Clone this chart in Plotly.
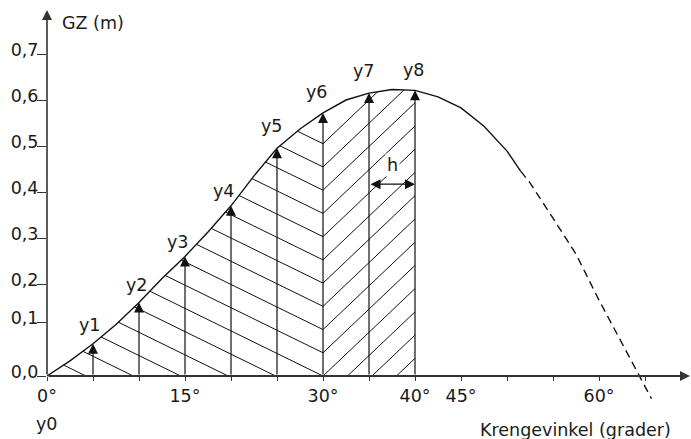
import numpy as np
import plotly.graph_objects as go

# ---- GZ curve (righting lever vs heel angle) ----
heel_deg = [0, 2.5, 5, 7.5, 10, 12.5, 15, 17.5, 20, 22.5, 25, 27.5, 30, 32.5, 35,
            37.5, 40, 42.5, 45, 47.5, 50, 51.5, 52.5, 55, 57.5, 60, 62.5, 65, 65.7]
gz_m = [0.0, 0.033, 0.07, 0.112, 0.16, 0.212, 0.26, 0.313, 0.37, 0.435, 0.495, 0.537,
        0.572, 0.600, 0.615, 0.623, 0.621, 0.607, 0.583, 0.543, 0.489, 0.445, 0.42,
        0.343, 0.265, 0.165, 0.07, -0.025, -0.049]
solid_until_deg = 51.5

# ---- Ordinates used for the area integration ----
ordinate_labels = ["y1", "y2", "y3", "y4", "y5", "y6", "y7", "y8"]
ordinate_deg = [5, 10, 15, 20, 25, 30, 35, 40]
interval_start_deg, interval_end_deg = 35, 40     # the "h" step
fold_deg = 30                                      # hatch direction changes here

# ---- Axis ticks ----
gz_tick_vals = [0.0, 0.117, 0.2, 0.3, 0.4, 0.5, 0.6, 0.7]
gz_tick_text = ["0,0", "0,1", "0,2", "0,3", "0,4", "0,5", "0,6", "0,7"]
heel_tick_vals = list(range(0, 70, 5))
heel_tick_text = ["0°", "", "", "15°", "", "", "30°", "", "40°", "45°", "", "", "60°", ""]

# ---- Layout geometry ----
W, H = 691, 439
M_L, M_R, M_T, M_B = 47, 1, 10, 34
x_range = [0, 69.89]
y_range = [-0.063, 0.7957]
x_axis_pos = (0 - y_range[0]) / (y_range[1] - y_range[0])

INK = "#1a1a1a"
AXIS = "#333333"
FONT = "DejaVu Sans"
FS = 17.5

heel = np.array(heel_deg, dtype=float)
gz = np.array(gz_m, dtype=float)


def curve(x):
    return np.interp(x, heel, gz)


ordinate_gz = [float(curve(a)) for a in ordinate_deg]

# ---- Hatching under the curve ----
HATCH_STEP = 0.0505   # spacing of chevron vertices on the fold ordinate (m)
LEFT_SLOPE = 0.0098   # m per degree, lines falling to the right
RIGHT_SLOPE = 0.019   # m per degree, lines rising to the right


def first_hit(line, x_from, x_to):
    xs = np.linspace(x_from, x_to, 6000)
    d = line(xs) - curve(xs)
    hit = np.nonzero(d >= 0)[0]
    return xs[hit[0]] if hit.size else x_to


hx, hy = [], []
for k in range(-6, 11):
    v = HATCH_STEP * k

    def left_line(x, v=v):
        return v + LEFT_SLOPE * (fold_deg - x)

    x_right = fold_deg if v >= 0 else fold_deg + v / LEFT_SLOPE
    if x_right > 0.3:
        x_left = first_hit(left_line, x_right, 0.0)
        hx += [x_left, x_right, None]
        hy += [float(left_line(x_left)), float(left_line(x_right)), None]

    def right_line(x, v=v):
        return v + RIGHT_SLOPE * (x - fold_deg)

    x_start = fold_deg if v >= 0 else fold_deg - v / RIGHT_SLOPE
    if x_start < interval_end_deg:
        x_stop = first_hit(right_line, x_start, interval_end_deg)
        hx += [x_start, x_stop, None]
        hy += [float(right_line(x_start)), float(right_line(x_stop)), None]

fig = go.Figure()
fig.add_trace(go.Scatter(x=hx, y=hy, mode="lines", line=dict(color="#111111", width=1),
                         hoverinfo="skip", showlegend=False))

solid = heel <= solid_until_deg
dashed = heel >= solid_until_deg
fig.add_trace(go.Scatter(x=heel[solid], y=gz[solid], mode="lines",
                         line=dict(color="#111111", width=1.4), showlegend=False))
fig.add_trace(go.Scatter(x=heel[dashed], y=gz[dashed], mode="lines",
                         line=dict(color="#111111", width=1.4, dash="8px,5px"),
                         showlegend=False))

ann = []


def arrow(x, y, ax, ay, width, color, both=False):
    d = dict(x=x, y=y, ax=ax, ay=ay, xref="x", yref="y", axref="x", ayref="y",
             text="", showarrow=True, arrowhead=2, arrowsize=2.0 / width,
             arrowwidth=width, arrowcolor=color)
    if both:
        d.update(arrowside="end+start", startarrowhead=2, startarrowsize=2.0 / width)
    return d


# axes with arrow heads
ann.append(arrow(x_range[1], 0, 0, 0, 1.8, AXIS))
ann.append(arrow(0, y_range[1], 0, 0, 1.6, AXIS))

# ordinates
label_nudge = [(-3, 19), (-2, 17), (-7, 14), (-7, 15), (-5, 22), (-6, 21), (-5, 22), (-1, 20)]
for a, g, lab, (dx, dy) in zip(ordinate_deg, ordinate_gz, ordinate_labels, label_nudge):
    ann.append(arrow(a, g, a, 0, 1.2, "#111111"))
    ann.append(dict(x=a, y=g, xref="x", yref="y", text=lab, showarrow=False,
                    xshift=dx, yshift=dy, font=dict(family=FONT, size=FS, color=INK)))

# h interval
h_level = 0.417
ann.append(arrow(interval_end_deg, h_level, interval_start_deg, h_level, 1.2, "#111111", both=True))
ann.append(dict(x=(interval_start_deg + interval_end_deg) / 2, y=h_level, xref="x", yref="y",
                text="h", showarrow=False, yshift=19, bgcolor="white", borderpad=1,
                font=dict(family=FONT, size=FS, color=INK)))

# titles
ann.append(dict(x=0, y=y_range[1], xref="x", yref="y", text="GZ (m)", showarrow=False,
                xanchor="left", yanchor="middle", xshift=13, yshift=-13,
                font=dict(family=FONT, size=FS, color=INK)))
ann.append(dict(x=0, y=0, xref="x", yref="y", text="y0", showarrow=False,
                xanchor="center", yanchor="middle", yshift=-48,
                font=dict(family=FONT, size=FS, color=INK)))
ann.append(dict(x=0.9736, y=0, xref="paper", yref="y", text="Krengevinkel (grader)",
                showarrow=False, xanchor="right", yanchor="middle", yshift=-54,
                font=dict(family=FONT, size=FS, color=INK)))

fig.update_layout(
    width=W, height=H,
    margin=dict(l=M_L, r=M_R, t=M_T, b=M_B, autoexpand=False),
    paper_bgcolor="white", plot_bgcolor="white",
    font=dict(family=FONT, size=FS, color=INK),
    showlegend=False,
    annotations=ann,
    xaxis=dict(range=x_range, showgrid=False, zeroline=False, showline=False,
               tickmode="array", tickvals=heel_tick_vals, ticktext=heel_tick_text,
               ticks="outside", ticklen=4, tickwidth=1.2, tickcolor=AXIS,
               anchor="free", position=x_axis_pos, ticklabelstandoff=0,
               tickfont=dict(family=FONT, size=FS, color=INK)),
    yaxis=dict(range=y_range, showgrid=False, zeroline=False, showline=False,
               tickmode="array", tickvals=gz_tick_vals, ticktext=gz_tick_text,
               ticks="outside", ticklen=9, tickwidth=1.2, tickcolor=AXIS,
               ticklabelshift=-4, ticklabelstandoff=-5,
               tickfont=dict(family=FONT, size=FS, color=INK)),
)

fig.write_html("out.html")
